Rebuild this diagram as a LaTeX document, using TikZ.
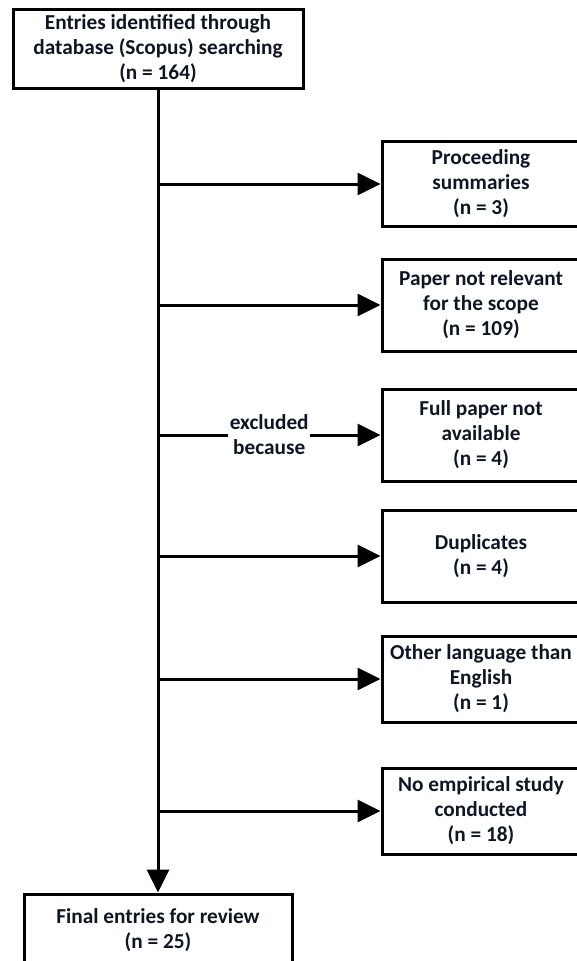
\documentclass[tikz,border=0pt]{standalone}
\usepackage{fontspec}
\setmainfont{Carlito}
\usetikzlibrary{arrows.meta}
\definecolor{txtcol}{RGB}{14,22,38}
\begin{document}
\begin{tikzpicture}[x=1pt,y=-1pt,
    box/.style={draw=black,line width=3pt,align=center,text=txtcol,inner sep=0pt,
        font=\fontsize{21.3}{25}\selectfont\bfseries},
    exbox/.style={box,minimum width=198pt},
    lbl/.style={fill=white,inner sep=1.5pt,align=center,text=txtcol,
        font=\fontsize{21.3}{25}\selectfont\bfseries},
    flow/.style={line width=3pt,-{Triangle[length=23pt,width=22pt]}}]
    \useasboundingbox (0,0) rectangle (577,961);
    \clip (0,0) rectangle (577,961);
    \node[box,minimum width=290pt,minimum height=79pt] (S) at (158,49) {Entries identified through\\database (Scopus) searching\\(n = 164)};
    \node[exbox,minimum height=85pt] (P) at (481,184) {Proceeding\\summaries\\(n = 3)};
    \node[exbox,minimum height=92pt] (R) at (481,305) {Paper not relevant\\for the scope\\(n = 109)};
    \node[exbox,minimum height=92pt] (A) at (481,435) {Full paper not\\available\\(n = 4)};
    \node[exbox,minimum height=92pt] (D) at (481,556) {Duplicates\\(n = 4)};
    \node[exbox,minimum height=86pt] (O) at (481,679) {Other language than\\English\\(n = 1)};
    \node[exbox,minimum height=86pt] (N) at (481,811) {No empirical study\\conducted\\(n = 18)};
    \node[box,minimum width=268pt,minimum height=73pt] (F) at (158,930.5) {Final entries for review\\(n = 25)};
    \coordinate (j1) at (158,184);
    \coordinate (j2) at (158,305);
    \coordinate (j3) at (158,435);
    \coordinate (j4) at (158,556);
    \coordinate (j5) at (158,679);
    \coordinate (j6) at (158,811);
    \draw[flow] (S.south) -- (F.north);
    \draw[flow] (j1) -- (P.west);
    \draw[flow] (j2) -- (R.west);
    \draw[flow] (j3) -- node[lbl] (ex) {excluded\\because} (A.west);
    \draw[flow] (j4) -- (D.west);
    \draw[flow] (j5) -- (O.west);
    \draw[flow] (j6) -- (N.west);
\end{tikzpicture}
\end{document}
